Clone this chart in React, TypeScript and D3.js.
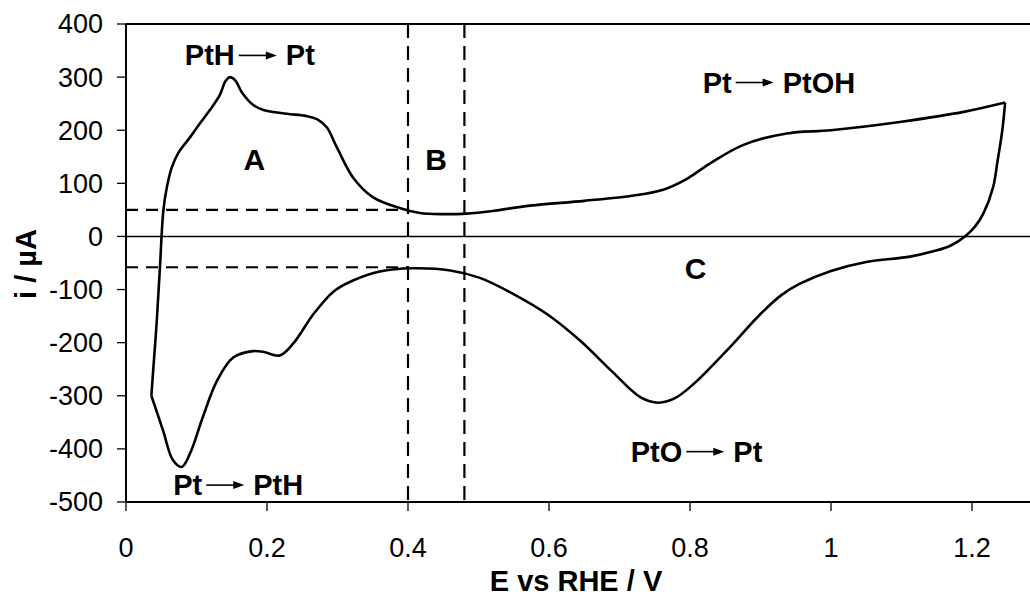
import React from "react";
import * as d3 from "d3";

// Anodic sweep (E in V vs RHE, i in µA)
const anodicE = [0.036, 0.0383, 0.0435, 0.0482, 0.053, 0.058, 0.065, 0.074, 0.091, 0.105, 0.119, 0.133, 0.141, 0.1475, 0.155, 0.164, 0.18, 0.195, 0.228, 0.255, 0.272, 0.285, 0.299, 0.322, 0.35, 0.389, 0.417, 0.45, 0.483, 0.52, 0.573, 0.65, 0.72, 0.762, 0.795, 0.828, 0.875, 0.937, 1.0, 1.1, 1.19, 1.247];
const anodicI = [-300, -257, -162, -57, 49, 93, 130, 157, 187, 213, 238, 266, 292, 300, 294, 272, 248, 238, 231, 227, 220, 205, 168, 111, 74, 53, 44, 42, 43, 48, 58, 67, 77, 88, 108, 137, 172, 194, 200, 216, 235, 252];

// Cathodic sweep
const cathodicE = [1.247, 1.243, 1.236, 1.23, 1.216, 1.205, 1.19, 1.17, 1.145, 1.112, 1.05, 1.0, 0.956, 0.93, 0.9, 0.852, 0.805, 0.778, 0.755, 0.73, 0.69, 0.644, 0.597, 0.549, 0.502, 0.46, 0.407, 0.36, 0.322, 0.295, 0.266, 0.237, 0.218, 0.194, 0.18, 0.152, 0.129, 0.109, 0.091, 0.079, 0.0665, 0.0525, 0.036];
const cathodicI = [252, 200, 140, 93, 43, 20, 0, -17, -28, -38, -48, -65, -89, -110, -146, -215, -278, -305, -313, -303, -255, -196, -146, -108, -78, -64, -60, -66, -83, -103, -146, -202, -224, -217, -216, -228, -272, -340, -408, -434, -421, -365, -300];

const xTicks = [0, 0.2, 0.4, 0.6, 0.8, 1, 1.2];
const xTickLabels = ["0", "0.2", "0.4", "0.6", "0.8", "1", "1.2"];
const yTicks = [400, 300, 200, 100, 0, -100, -200, -300, -400, -500];
const yTickLabels = ["400", "300", "200", "100", "0", "-100", "-200", "-300", "-400", "-500"];

const regionBounds = [0.4, 0.48];
const dlLevels = [50, -58];

const regionLabels = [
  { text: "A", E: 0.182, I: 125 },
  { text: "B", E: 0.44, I: 125 },
  { text: "C", E: 0.808, I: -80 },
];

const reactions = [
  { left: "PtH", right: "Pt", E: 0.0835, I: 322 },
  { left: "Pt", right: "PtOH", E: 0.818, I: 271 },
  { left: "PtO", right: "Pt", E: 0.716, I: -424 },
  { left: "Pt", right: "PtH", E: 0.067, I: -487 },
];

const W = 1030;
const H = 596;
const FONT = "'Liberation Sans', Arial, Helvetica, sans-serif";

export default function App() {
  const x = d3.scaleLinear().domain([0, 1.3]).range([126, 126 + 705 * 1.3]);
  const y = d3.scaleLinear().domain([-500, 400]).range([502, 24]);

  const line = d3
    .line<[number, number]>()
    .x((d) => x(d[0]))
    .y((d) => y(d[1]))
    .curve(d3.curveCatmullRom.alpha(0.5));

  const an: [number, number][] = anodicE.map((e, k) => [e, anodicI[k]]);
  const ca: [number, number][] = cathodicE.map((e, k) => [e, cathodicI[k]]);

  const labelSize = 29;
  const charW: Record<string, number> = { P: 0.667, t: 0.333, H: 0.722, O: 0.778 };
  const textW = (s: string) => s.split("").reduce((a, c) => a + (charW[c] || 0.6), 0) * labelSize;

  const x0 = x(0);
  const xR = W;

  return (
    <svg
      width={W}
      height={H}
      style={{ position: "absolute", left: 0, top: 0, display: "block", background: "#fff" }}
      fontFamily={FONT}
    >
      <rect x={0} y={0} width={W} height={H} fill="#fff" />
      {/* frame */}
      <line x1={x0} x2={xR} y1={y(400)} y2={y(400)} stroke="#000" strokeWidth={2} />
      <line x1={x0} x2={xR} y1={y(-500)} y2={y(-500)} stroke="#000" strokeWidth={2} />
      <line x1={x0} x2={x0} y1={y(400)} y2={y(-500)} stroke="#000" strokeWidth={2} />
      {/* zero line */}
      <line x1={x0} x2={xR} y1={y(0)} y2={y(0)} stroke="#000" strokeWidth={1.5} />

      {/* y ticks */}
      {yTicks.map((v, k) => (
        <g key={"y" + v}>
          <line x1={x0 - 9} x2={x0} y1={y(v)} y2={y(v)} stroke="#000" strokeWidth={1.3} />
          <text x={x0 - 23} y={y(v)} dy="0.35em" textAnchor="end" fontSize={27} fill="#000">
            {yTickLabels[k]}
          </text>
        </g>
      ))}
      {/* x ticks */}
      {xTicks.map((v, k) => (
        <g key={"x" + v}>
          <line x1={x(v)} x2={x(v)} y1={y(-500)} y2={y(-500) + 9} stroke="#000" strokeWidth={1.3} />
          <text x={x(v)} y={557} textAnchor="middle" fontSize={27} fill="#000">
            {xTickLabels[k]}
          </text>
        </g>
      ))}

      {/* dashed guides */}
      {regionBounds.map((e) => (
        <line key={"v" + e} x1={x(e)} x2={x(e)} y1={y(400)} y2={y(-500)} stroke="#000" strokeWidth={2.2} strokeDasharray="14,8" />
      ))}
      {dlLevels.map((v) => (
        <line key={"h" + v} x1={x0} x2={x(0.4)} y1={y(v)} y2={y(v)} stroke="#000" strokeWidth={2.2} strokeDasharray="12,8" />
      ))}

      {/* CV curve */}
      <path d={line(an) || ""} fill="none" stroke="#000" strokeWidth={2.6} strokeLinejoin="round" />
      <path d={line(ca) || ""} fill="none" stroke="#000" strokeWidth={2.6} strokeLinejoin="round" />

      {/* region labels */}
      {regionLabels.map((r) => (
        <text key={r.text} x={x(r.E)} y={y(r.I)} textAnchor="middle" fontSize={30} fontWeight="bold" fill="#000">
          {r.text}
        </text>
      ))}

      {/* reaction labels */}
      {reactions.map((r, k) => {
        const bx = x(r.E);
        const by = y(r.I);
        const lw = textW(r.left);
        const ax1 = bx + lw + 4;
        const ax2 = ax1 + 38;
        const ay = by - 10;
        return (
          <g key={"r" + k}>
            <text x={bx} y={by} fontSize={labelSize} fontWeight="bold" fill="#000">
              {r.left}
            </text>
            <line x1={ax1} x2={ax2 - 8} y1={ay} y2={ay} stroke="#000" strokeWidth={1.6} />
            <polygon points={`${ax2},${ay} ${ax2 - 11},${ay - 4} ${ax2 - 11},${ay + 4}`} fill="#000" />
            <text x={ax2 + 9} y={by} fontSize={labelSize} fontWeight="bold" fill="#000">
              {r.right}
            </text>
          </g>
        );
      })}

      {/* axis titles */}
      <text x={576} y={591} textAnchor="middle" fontSize={29} fontWeight="bold" fill="#000">
        E vs RHE / V
      </text>
      <text
        transform={`translate(36, ${264}) rotate(-90)`}
        textAnchor="middle"
        fontSize={29}
        fontWeight="bold"
        fill="#000"
      >
        i / µA
      </text>
    </svg>
  );
}
